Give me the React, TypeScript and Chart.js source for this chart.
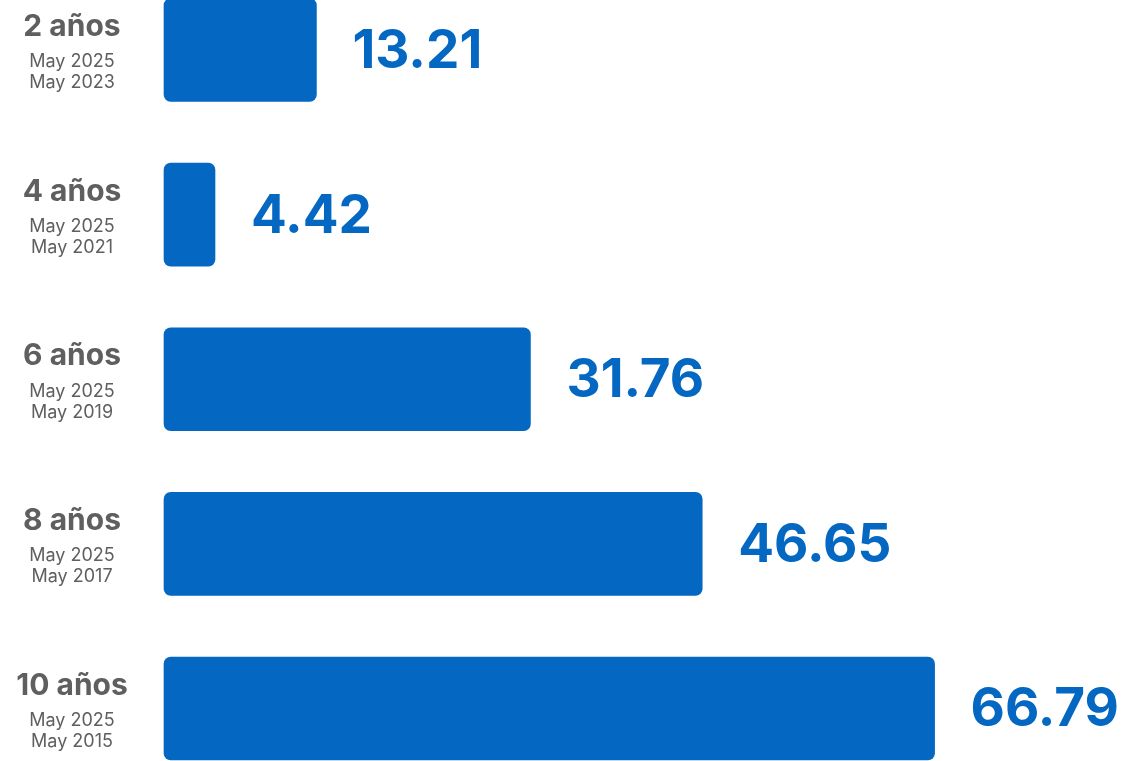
import React, { useEffect, useRef } from "react";
import { Chart, registerables } from "chart.js";

Chart.register(...registerables);

const periods = ["2 años", "4 años", "6 años", "8 años", "10 años"];
const startDates = ["May 2025", "May 2025", "May 2025", "May 2025", "May 2025"];
const endDates = ["May 2023", "May 2021", "May 2019", "May 2017", "May 2015"];
const values = [13.21, 4.42, 31.76, 46.65, 66.79];
const valueLabels = ["13.21", "4.42", "31.76", "46.65", "66.79"];

const BLUE = "#0468C2";
const GRAY = "#5f5f5f";
const FONT = "Inter, 'Noto Sans', sans-serif";

const labelsPlugin = {
  id: "sideLabels",
  afterDatasetsDraw(chart: any) {
    const ctx = chart.ctx;
    const meta = chart.getDatasetMeta(0);
    ctx.save();
    meta.data.forEach((bar: any, i: number) => {
      const y = bar.y;
      ctx.textAlign = "center";
      ctx.textBaseline = "middle";
      ctx.fillStyle = GRAY;
      ctx.font = `bold 30px ${FONT}`;
      ctx.fillText(periods[i], 72, y - 23);
      ctx.font = `18px ${FONT}`;
      ctx.fillText(startDates[i], 72, y + 12);
      ctx.fillText(endDates[i], 72, y + 33);
      ctx.textAlign = "left";
      ctx.fillStyle = BLUE;
      ctx.font = `bold 53px ${FONT}`;
      ctx.fillText(valueLabels[i], bar.x + 36, y + 2);
    });
    ctx.restore();
  },
};

export default function App() {
  const ref = useRef<HTMLCanvasElement>(null);
  useEffect(() => {
    document.body.style.margin = "0";
    const chart = new Chart(ref.current!, {
      type: "bar",
      data: {
        labels: periods,
        datasets: [
          {
            data: values,
            backgroundColor: BLUE,
            borderRadius: 7,
            borderSkipped: false,
            barThickness: 103,
            clip: false as any,
          },
        ],
      },
      options: {
        indexAxis: "y",
        animation: false,
        responsive: false,
        maintainAspectRatio: false,
        layout: { padding: { left: 164, right: 43, top: 50, bottom: 52.5 } },
        plugins: { legend: { display: false }, tooltip: { enabled: false } },
        scales: {
          x: { display: false, min: 0, max: 80 },
          y: { display: false, offset: false },
        },
      },
      plugins: [labelsPlugin],
    });
    return () => chart.destroy();
  }, []);
  return (
    <div style={{ position: "absolute", left: 0, top: 0, width: 1130, height: 761 }}>
      <canvas ref={ref} width={1130} height={761} style={{ display: "block" }} />
    </div>
  );
}
